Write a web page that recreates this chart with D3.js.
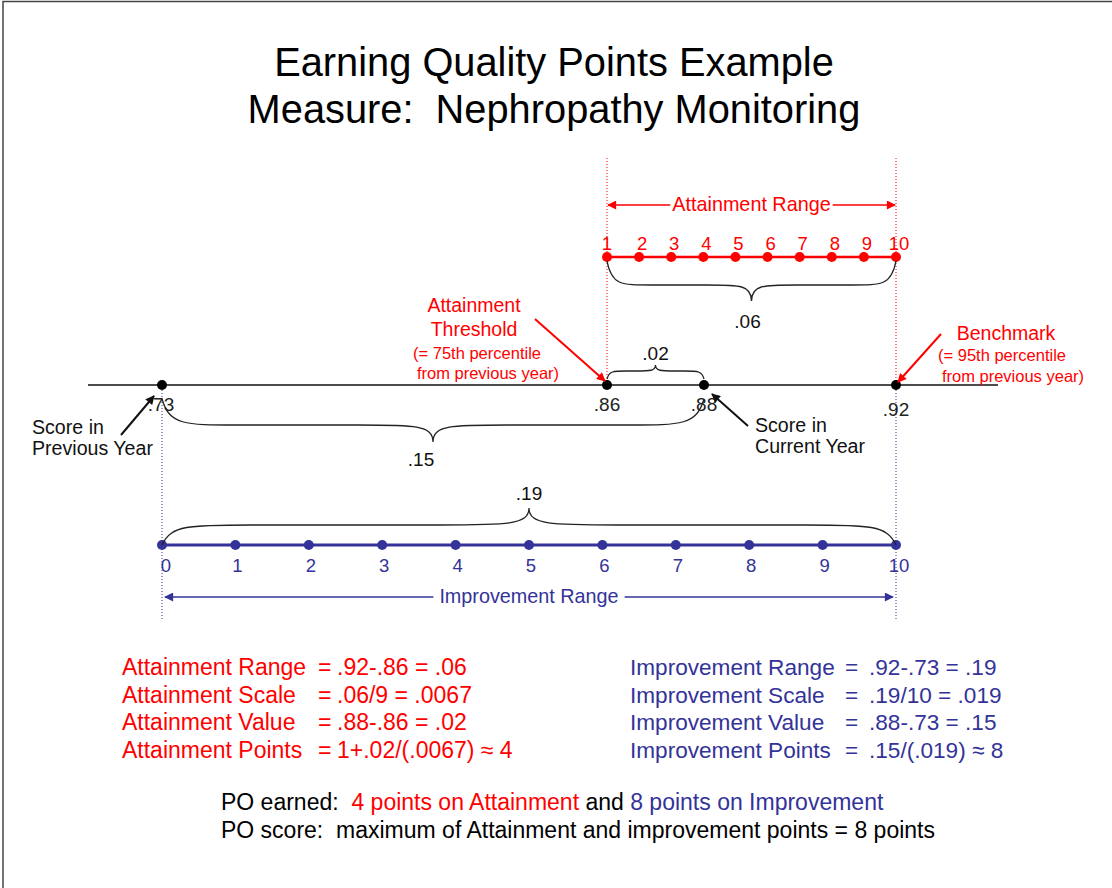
<!DOCTYPE html>
<html><head><meta charset="utf-8">
<script src="https://cdn.jsdelivr.net/npm/d3@7/dist/d3.min.js"></script>
<style>
html,body{margin:0;padding:0;background:#fff;}
svg text{font-family:"Liberation Sans",Arial,sans-serif;white-space:pre;}
</style></head>
<body>
<svg id="c" width="1112" height="888"></svg>
<script>
// ---- data ----
const titleLines = ["Earning Quality Points Example", "Measure:  Nephropathy Monitoring"];
const scoreValues = [0.73, 0.86, 0.88, 0.92];
const scoreLabels = [".73", ".86", ".88", ".92"];
const attainmentPoints = [1, 2, 3, 4, 5, 6, 7, 8, 9, 10];
const improvementPoints = [0, 1, 2, 3, 4, 5, 6, 7, 8, 9, 10];
const braceLabels = [".06", ".02", ".15", ".19"];
const attainmentFormulaLabels = ["Attainment Range", "Attainment Scale", "Attainment Value", "Attainment Points"];
const attainmentFormulaValues = [".92-.86 = .06", ".06/9 = .0067", ".88-.86 = .02", "1+.02/(.0067) \u2248 4"];
const improvementFormulaLabels = ["Improvement Range", "Improvement Scale", "Improvement Value", "Improvement Points"];
const improvementFormulaValues = [".92-.73 = .19", ".19/10 = .019", ".88-.73 = .15", ".15/(.019) \u2248 8"];

const RED = "#ff0000", BLUE = "#333399", INK = "#111";
const svg = d3.select("#c");

// frame
svg.append("path").attr("d", "M3,888V1.5H1112").attr("fill", "none").attr("stroke", "#444").attr("stroke-width", 1.5);

// markers
const defs = svg.append("defs");
function marker(id, color) {
  defs.append("marker").attr("id", id).attr("viewBox", "0 0 10 10").attr("refX", 9).attr("refY", 5)
    .attr("markerWidth", 10).attr("markerHeight", 9).attr("markerUnits", "userSpaceOnUse").attr("orient", "auto")
    .append("path").attr("d", "M0,0L10,5L0,10Z").attr("fill", color);
}
marker("mr", RED); marker("mb", BLUE); marker("mk", INK);

// titles
svg.selectAll("text.title").data(titleLines).join("text").attr("class", "title")
  .attr("x", 554).attr("y", (d, i) => 76 + i * 47).attr("text-anchor", "middle")
  .attr("font-size", 39.8).attr("fill", "#000").text(d => d);

// scales
const x = d3.scaleLinear().domain(scoreValues).range([162, 607, 704, 896]);
const xa = d3.scaleLinear().domain([1, 10]).range([x(0.86), x(0.92)]);
const xi = d3.scaleLinear().domain([0, 10]).range([x(0.73), x(0.92)]);

const yMain = 385, yAtt = 257, yImp = 545;

// dotted guides
[x(0.86), x(0.92)].forEach(px => svg.append("line").attr("x1", px).attr("x2", px).attr("y1", 158).attr("y2", yMain)
  .attr("stroke", RED).attr("stroke-width", 1).attr("stroke-dasharray", "1,2"));
[x(0.73), x(0.92)].forEach(px => svg.append("line").attr("x1", px).attr("x2", px).attr("y1", yMain + 5).attr("y2", 620)
  .attr("stroke", BLUE).attr("stroke-width", 1).attr("stroke-dasharray", "1,2"));

// main line
svg.append("line").attr("x1", 88).attr("x2", 998).attr("y1", yMain).attr("y2", yMain).attr("stroke", INK).attr("stroke-width", 1.5);
svg.selectAll("circle.score").data(scoreValues).join("circle").attr("class", "score")
  .attr("cx", d => x(d)).attr("cy", yMain).attr("r", 5).attr("fill", "#000");
svg.selectAll("text.score").data(scoreLabels).join("text").attr("class", "score")
  .attr("x", (d, i) => x(scoreValues[i]) + (i === 0 ? -1 : 0)).attr("y", (d, i) => i === 3 ? 416 : 411)
  .attr("text-anchor", "middle").attr("font-size", 19).attr("fill", "#222").text(d => d);

// attainment scale
svg.append("line").attr("x1", xa(1)).attr("x2", xa(10)).attr("y1", yAtt).attr("y2", yAtt).attr("stroke", RED).attr("stroke-width", 2.5);
svg.selectAll("circle.att").data(attainmentPoints).join("circle").attr("class", "att")
  .attr("cx", d => xa(d)).attr("cy", yAtt).attr("r", 5).attr("fill", RED);
svg.selectAll("text.att").data(attainmentPoints).join("text").attr("class", "att")
  .attr("x", d => xa(d) + (d === 1 ? 0 : 3)).attr("y", yAtt - 7).attr("text-anchor", "middle").attr("font-size", 18.5).attr("fill", RED).text(d => d);

// improvement scale
svg.append("line").attr("x1", xi(0)).attr("x2", xi(10)).attr("y1", yImp).attr("y2", yImp).attr("stroke", BLUE).attr("stroke-width", 3);
svg.selectAll("circle.imp").data(improvementPoints).join("circle").attr("class", "imp")
  .attr("cx", d => xi(d)).attr("cy", yImp).attr("r", 5).attr("fill", BLUE);
svg.selectAll("text.imp").data(improvementPoints).join("text").attr("class", "imp")
  .attr("x", d => xi(d) + (d === 0 ? 4 : d === 10 ? 3 : 2)).attr("y", yImp + 27).attr("text-anchor", "middle")
  .attr("font-size", 18.5).attr("fill", BLUE).text(d => d);

// range arrows with labels
function rangeArrow(x1, x2, y, label, color, mk, gap) {
  const mid = (x1 + x2) / 2;
  const t = svg.append("text").attr("x", mid).attr("y", y + 6).attr("text-anchor", "middle")
    .attr("font-size", 19.8).attr("fill", color).text(label);
  const w = t.node().getComputedTextLength();
  svg.append("line").attr("x1", mid - w / 2 - gap).attr("x2", x1).attr("y1", y).attr("y2", y)
    .attr("stroke", color).attr("stroke-width", 1.5).attr("marker-end", `url(#${mk})`);
  svg.append("line").attr("x1", mid + w / 2 + gap).attr("x2", x2).attr("y1", y).attr("y2", y)
    .attr("stroke", color).attr("stroke-width", 1.5).attr("marker-end", `url(#${mk})`);
}
rangeArrow(xa(1) + 1, xa(10) - 1, 205, "Attainment Range", RED, "mr", 2);
rangeArrow(xi(0) + 3, xi(10) - 3, 597, "Improvement Range", BLUE, "mb", 6);

// braces
function brace(x1, x2, y, d, b, t, r) {
  const xm = (x1 + x2) / 2, yb = y + d * b, yt = y + d * t;
  const p = d3.path();
  p.moveTo(x1, y);
  p.bezierCurveTo(x1 + r * 0.1, yb, x1 + r * 0.3, yb, x1 + r, yb);
  p.lineTo(xm - r, yb);
  p.bezierCurveTo(xm - r * 0.25, yb, xm, yb, xm, yt);
  p.bezierCurveTo(xm, yb, xm + r * 0.25, yb, xm + r, yb);
  p.lineTo(x2 - r, yb);
  p.bezierCurveTo(x2 - r * 0.3, yb, x2 - r * 0.1, yb, x2, y);
  svg.append("path").attr("d", p.toString()).attr("fill", "none").attr("stroke", "#222").attr("stroke-width", 1.3);
  return xm;
}
const braceSpecs = [
  { x1: xa(1), x2: xa(10), y: yAtt + 4, d: 1, b: 24, t: 40, r: 45, ly: 328 },
  { x1: x(0.86), x2: x(0.88), y: yMain - 6, d: -1, b: 8, t: 14, r: 20, ly: 360 },
  { x1: x(0.73), x2: x(0.88), y: yMain + 14, d: 1, b: 26, t: 43, r: 75, ly: 466 },
  { x1: xi(0), x2: xi(10), y: yImp, d: -1, b: 20, t: 37, r: 90, ly: 500 }
];
braceSpecs.forEach((s, i) => {
  const xm = brace(s.x1, s.x2, s.y, s.d, s.b, s.t, s.r);
  svg.append("text").attr("x", xm + (i === 2 ? -12 : i === 0 ? -4 : 0)).attr("y", s.ly).attr("text-anchor", "middle")
    .attr("font-size", 19).attr("fill", "#111").text(braceLabels[i]);
});

// annotations
function multi(lines, xx, y0, anchor, color) {
  lines.forEach(l => svg.append("text").attr("x", xx + (l.dx || 0)).attr("y", y0 + l.dy).attr("text-anchor", anchor)
    .attr("font-size", l.fs).attr("fill", color).text(l.t));
}
multi([{ t: "Attainment", dy: 0, fs: 19.5 }, { t: "Threshold", dy: 24, fs: 19.5 },
       { t: "(= 75th percentile", dy: 47, fs: 16.5, dx: 3 }, { t: "from previous year)", dy: 67, fs: 16.5, dx: 14 }], 474, 312, "middle", RED);
multi([{ t: "Benchmark", dy: 0, fs: 19.5 }, { t: "(= 95th percentile", dy: 21, fs: 16.5, dx: -4 },
       { t: "from previous year)", dy: 42, fs: 16.5, dx: 7 }], 1006, 340, "middle", RED);
multi([{ t: "Score in", dy: 0, fs: 19.6 }, { t: "Previous Year", dy: 21, fs: 19.6 }], 32, 434, "start", "#111");
multi([{ t: "Score in", dy: 0, fs: 19.6 }, { t: "Current Year", dy: 21, fs: 19.6 }], 755, 432, "start", "#111");

function arrow(x1, y1, x2, y2, color, mk) {
  svg.append("line").attr("x1", x1).attr("y1", y1).attr("x2", x2).attr("y2", y2)
    .attr("stroke", color).attr("stroke-width", 2).attr("marker-end", `url(#${mk})`);
}
arrow(535, 319, x(0.86) - 2, yMain - 4, RED, "mr");
arrow(941, 334, x(0.92) + 2, yMain - 3, RED, "mr");
arrow(121, 435, x(0.73) - 8, yMain + 11, INK, "mk");
arrow(748, 426, x(0.88) + 8, yMain + 9, INK, "mk");

// formulas
function formulas(labels, values, lx, ex, vx, color, fs) {
  labels.forEach((l, i) => {
    const y = 675 + i * 27.7;
    svg.append("text").attr("x", lx).attr("y", y).attr("font-size", fs).attr("fill", color).text(l);
    svg.append("text").attr("x", ex).attr("y", y).attr("font-size", fs).attr("fill", color).text("=");
    svg.append("text").attr("x", vx).attr("y", y).attr("font-size", fs).attr("fill", color).text(values[i]);
  });
}
formulas(attainmentFormulaLabels, attainmentFormulaValues, 122, 318, 337, RED, 23);
formulas(improvementFormulaLabels, improvementFormulaValues, 630, 845, 869, BLUE, 22.6);

// bottom summary
const t1 = svg.append("text").attr("x", 221).attr("y", 810).attr("font-size", 23).attr("fill", "#000");
t1.append("tspan").text("PO earned:  ");
t1.append("tspan").attr("fill", RED).text("4 points on Attainment");
t1.append("tspan").text(" and ");
t1.append("tspan").attr("fill", BLUE).text("8 points on Improvement");
svg.append("text").attr("x", 221).attr("y", 838).attr("font-size", 23).attr("fill", "#000")
  .text("PO score:  maximum of Attainment and improvement points = 8 points");
</script>
</body></html>
